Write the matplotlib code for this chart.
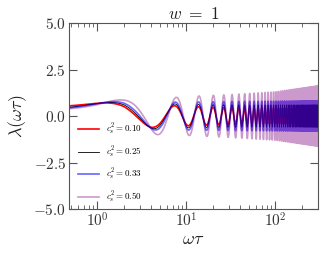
import numpy as np
import matplotlib
matplotlib.use("Agg")
import matplotlib.pyplot as plt

plt.rcParams["font.family"] = "serif"
plt.rcParams["font.serif"] = ["cmr10", "DejaVu Serif"]
plt.rcParams["mathtext.fontset"] = "cm"
plt.rcParams["axes.formatter.use_mathtext"] = True
plt.rcParams["axes.unicode_minus"] = True

# values: envelope and phase of each curve at a few wt
x_knots = [0.48, 1, 2, 4.5, 7.5, 14, 30, 100, 300]
cs2_labels = ["0.10", "0.25", "0.33", "0.50"]
amp_010 = [0.63, 0.70, 0.72, 0.60, 0.55, 0.50, 0.45, 0.42, 0.40]
amp_025 = [0.62, 0.72, 0.75, 0.68, 0.65, 0.62, 0.60, 0.60, 0.60]
amp_033 = [0.68, 0.76, 0.78, 0.75, 0.75, 0.76, 0.78, 0.80, 0.82]
amp_050 = [0.82, 0.84, 0.87, 1.00, 1.00, 1.08, 1.15, 1.30, 1.62]
phase_010 = [1.00, 1.20, 1.20, 1.07, 1.10, 1.10, 1.10, 1.10, 1.10]
phase_025 = [1.20, 1.35, 1.35, 1.20, 1.15, 1.12, 1.10, 1.10, 1.10]
phase_033 = [1.35, 1.50, 1.50, 1.36, 1.22, 1.15, 1.10, 1.10, 1.10]
phase_050 = [1.55, 1.75, 1.80, 1.66, 1.42, 1.30, 1.20, 1.15, 1.10]

amps = [amp_010, amp_025, amp_033, amp_050]
phases = [phase_010, phase_025, phase_033, phase_050]
colors = ["red", "black", "blue", "purple"]
alphas = [1.0, 1.0, 0.6, 0.4]
widths = [1.2, 0.6, 1.2, 1.2]

wt = np.geomspace(0.48, 300, 30000)
lx = np.log(wt)
lk = np.log(x_knots)

fig = plt.figure(figsize=(3.24, 2.59), dpi=100)
ax = fig.add_axes([0.213, 0.193, 0.768, 0.718])

for a, p, c, al, lw, lab in zip(amps, phases, colors, alphas, widths, cs2_labels):
    A = np.interp(lx, lk, a)
    ph = np.interp(lx, lk, p)
    lam = A * np.cos(wt - ph)
    ax.plot(wt, lam, color=c, alpha=al, lw=lw, label=r"$c_s^2 = %s$" % lab)

ax.set_xscale("log")
ax.set_xlim(0.48, 300)
ax.set_ylim(-5, 5)
ax.set_yticks([-5, -2.5, 0, 2.5, 5])
ax.set_yticklabels([r"$-5.0$", r"$-2.5$", r"$0.0$", r"$2.5$", r"$5.0$"])
ax.set_title(r"$w\ =\ 1$", fontsize=12.5, pad=3, color="#222222")
ax.set_xlabel(r"$\omega\tau$", fontsize=13, labelpad=1, color="#222222")
ax.set_ylabel(r"$\lambda(\omega\tau)$", fontsize=13, labelpad=3, color="#222222")

for s in ax.spines.values():
    s.set_color("#555555")
ax.tick_params(which="both", direction="in", top=True, right=True, pad=2,
               colors="#555555", labelcolor="#333333", labelsize=11)
ax.tick_params(which="major", length=6)
ax.tick_params(which="minor", length=3)

ax.legend(loc="lower left", frameon=False, fontsize=6.5, handlelength=2.3,
          labelspacing=0.78, bbox_to_anchor=(0.004, -0.022))

fig.savefig("out.png", dpi=100)
